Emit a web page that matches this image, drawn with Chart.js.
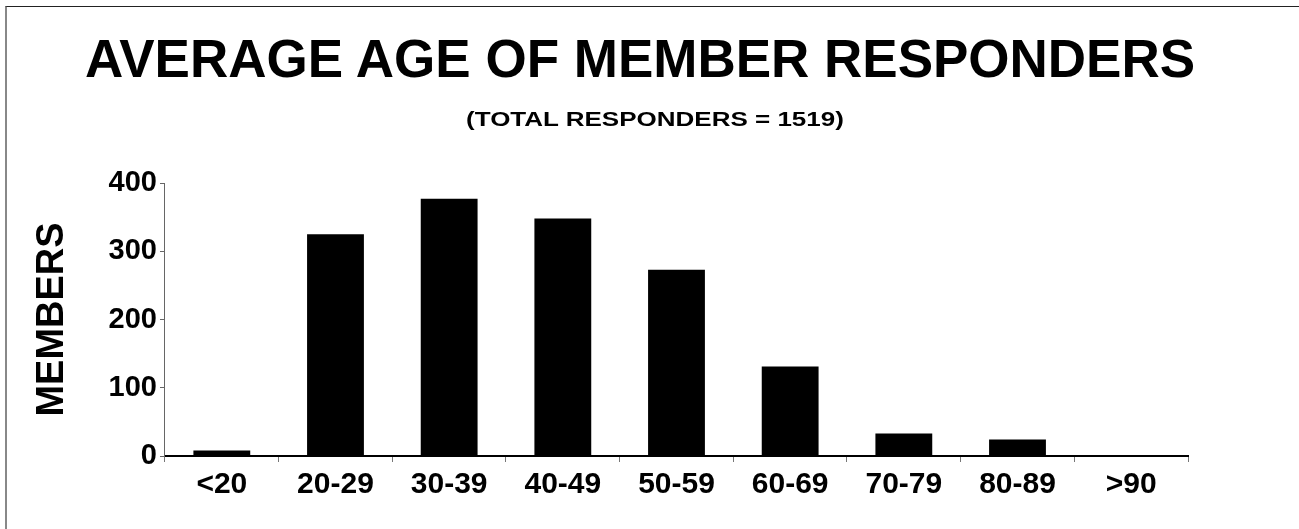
<!DOCTYPE html>
<html>
<head>
<meta charset="utf-8">
<script src="https://cdn.jsdelivr.net/npm/chart.js@4"></script>
<style>
  body { margin: 0; background: #fff; }
  #wrap { position: relative; width: 1299px; height: 529px; font-family: "Liberation Sans", Arial, Helvetica, sans-serif; }
  #frame { position: absolute; left: 5px; top: 6px; right: -10px; bottom: -10px;
           border-top: 1px solid #222; border-left: 2px solid #888; pointer-events: none; }
  .ttl { position: absolute; left: 0; white-space: nowrap; font-weight: bold; color: #000; line-height: 1; }
  #title { top: 32px; width: 1280px; text-align: center; font-size: 53px; }
  #subtitle { top: 109px; width: 1310px; text-align: center; font-size: 20px; transform: scaleX(1.3); transform-origin: 655px 0; }
</style>
</head>
<body>
<div id="wrap">
  <canvas id="chartAges"></canvas>
  <div id="frame"></div>
  <div class="ttl" id="title">AVERAGE AGE OF MEMBER RESPONDERS</div>
  <div class="ttl" id="subtitle">(TOTAL RESPONDERS = 1519)</div>
</div>
<script>
// ── Data ──────────────────────────────────────────────────────────────────────
const ageGroups = ['<20', '20-29', '30-39', '40-49', '50-59', '60-69', '70-79', '80-89', '>90'];
const members   = [8, 325, 377, 348, 273, 131, 33, 24, 0];
const yTicks    = [0, 100, 200, 300, 400];

const FONT = '"Liberation Sans", Arial, Helvetica, sans-serif';

new Chart(document.getElementById('chartAges'), {
  type: 'bar',
  data: {
    labels: ageGroups,
    datasets: [{
      label: 'Members',
      data: members,
      backgroundColor: '#000',
      borderWidth: 0,
      barPercentage: 0.5,
      categoryPercentage: 1.0,
    }],
  },
  options: {
    responsive: true,
    maintainAspectRatio: false,
    animation: false,
    layout: { padding: { top: 183, left: 30, right: 111, bottom: 21 } },
    plugins: {
      legend: { display: false },
      tooltip: { enabled: false },
    },
    scales: {
      x: {
        grid: {
          display: true,
          drawOnChartArea: false,
          drawTicks: true,
          tickLength: 6,
          color: '#777',
          offset: true,
        },
        border: { display: true, color: '#000', width: 2 },
        ticks: {
          color: '#000',
          padding: 5,
          font: { family: FONT, size: 30, weight: 'bold' },
        },
      },
      y: {
        min: 0,
        max: 400,
        afterBuildTicks: scale => { scale.ticks = yTicks.map(v => ({ value: v })); },
        grid: {
          display: true,
          drawOnChartArea: false,
          drawTicks: true,
          tickLength: 5,
          color: '#666',
        },
        border: { display: true, color: '#666', width: 1 },
        title: {
          display: true,
          text: 'MEMBERS',
          color: '#000',
          font: { family: FONT, size: 38, weight: 'bold' },
          padding: { top: 0, bottom: 30 },
        },
        ticks: {
          color: '#000',
          padding: 3,
          font: { family: FONT, size: 29, weight: 'bold' },
        },
      },
    },
  },
});
</script>
</body>
</html>
